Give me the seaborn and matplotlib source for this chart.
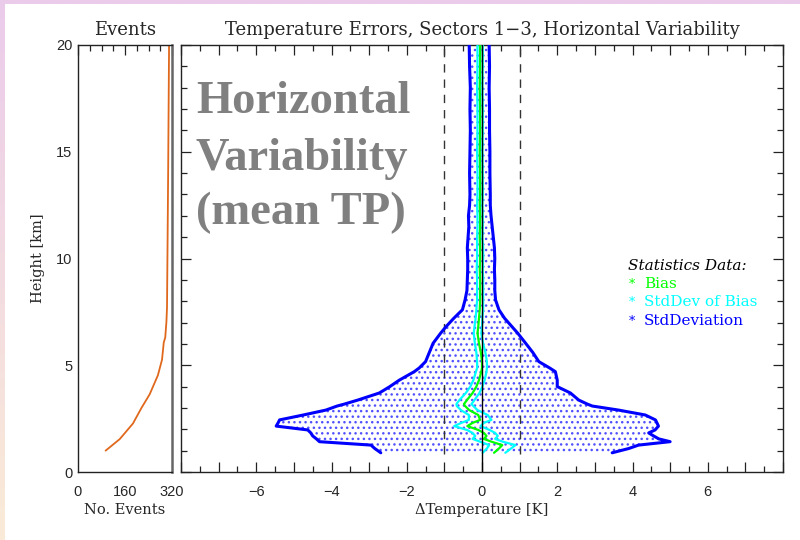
import numpy as np
import pandas as pd
import matplotlib
matplotlib.use("Agg")
import matplotlib.pyplot as plt
import seaborn as sns
from matplotlib.patches import Rectangle
from matplotlib.ticker import MultipleLocator

# ---------------- data ----------------
height_km = [0.9, 1.1, 1.26, 1.42, 1.55, 1.69, 1.83, 1.97, 2.15, 2.3, 2.44, 2.67, 2.9,
             3.09, 3.18, 3.37, 3.7, 4.0, 4.3, 4.7, 4.87, 5.17, 5.6, 6.03, 6.5, 6.8,
             7.2, 7.6, 8.06, 8.5, 9.0, 9.5, 10.0, 10.5, 11.0, 11.5, 12.0, 12.5, 13.0,
             14.0, 15.0, 16.0, 17.0, 18.0, 19.0, 20.0]
std_low = [-2.69, -2.85, -2.95, -4.32, -4.40, -4.50, -4.55, -4.63, -5.47, -5.42, -5.38,
           -4.75, -4.15, -3.85, -3.66, -3.30, -2.73, -2.45, -2.20, -1.80, -1.67, -1.50,
           -1.40, -1.30, -1.10, -0.96, -0.75, -0.52, -0.45, -0.40, -0.39, -0.38, -0.38,
           -0.39, -0.37, -0.35, -0.36, -0.33, -0.32, -0.33, -0.32, -0.31, -0.32, -0.31,
           -0.33, -0.34]
std_high = [3.46, 3.90, 4.16, 5.00, 4.70, 4.56, 4.43, 4.60, 4.69, 4.65, 4.61, 4.34, 3.63,
            2.93, 2.80, 2.57, 2.35, 2.00, 2.00, 1.95, 1.80, 1.51, 1.35, 1.16, 0.95, 0.80,
            0.60, 0.45, 0.36, 0.34, 0.34, 0.33, 0.34, 0.33, 0.30, 0.27, 0.24, 0.22, 0.22,
            0.21, 0.21, 0.20, 0.20, 0.19, 0.20, 0.19]
bias = [0.32, 0.45, 0.54, 0.25, 0.05, 0.12, 0.05, -0.10, -0.39, -0.25, -0.05, -0.10,
        -0.34, -0.45, -0.48, -0.40, -0.25, -0.15, -0.08, -0.02, 0.00, 0.00, -0.03, -0.08,
        -0.12, -0.10, -0.08, -0.06, -0.05, -0.05, -0.05, -0.06, -0.05, -0.05, -0.06,
        -0.05, -0.05, -0.06, -0.05, -0.05, -0.06, -0.05, -0.05, -0.06, -0.05, -0.05]
std_of_bias = [0.30, 0.32, 0.35, 0.30, 0.30, 0.30, 0.30, 0.30, 0.35, 0.30, 0.30, 0.25,
               0.22, 0.22, 0.20, 0.20, 0.18, 0.16, 0.15, 0.14, 0.13, 0.13, 0.12, 0.11,
               0.10, 0.10, 0.09, 0.09, 0.08, 0.08, 0.08, 0.08, 0.08, 0.08, 0.07, 0.07,
               0.07, 0.07, 0.07, 0.07, 0.07, 0.07, 0.07, 0.07, 0.07, 0.07]

events_height = [1.0, 1.54, 2.27, 3.0, 3.64, 4.53, 5.26, 6.07, 6.3, 7.04, 7.7, 10.9, 14.2, 20.0]
events_count = [94, 142, 187, 216, 244, 272, 286, 292, 297, 301, 303, 305, 307, 310]

xticks_main = [-6, -4, -2, 0, 2, 4, 6]
xticks_events = [0, 160, 320]
yticks_height = [0, 5, 10, 15, 20]

annotation_lines = ["Horizontal", "Variability", "(mean TP)"]
legend_labels = ["Bias", "StdDev of Bias", "StdDeviation"]
legend_colors = ["#00ff00", "#00ffff", "#0000ff"]

# ---------------- style ----------------
sns.set_theme(style="white")
plt.rcParams["font.family"] = ["DejaVu Serif", "DejaVu Sans"]
plt.rcParams["hatch.linewidth"] = 1.0

W, H = 800, 540
fig = plt.figure(figsize=(8, 5.4), dpi=100)

# background gradient frame
bg = fig.add_axes([0, 0, 1, 1], zorder=-10)
top = np.array([235, 203, 235]) / 255.0
bot = np.array([250, 235, 215]) / 255.0
t = np.linspace(0, 1, 256)[:, None]
grad = top[None, :] * (1 - t) + bot[None, :] * t
bg.imshow(grad[:, None, :], aspect="auto", extent=[0, 1, 0, 1], origin="upper")
bg.add_patch(Rectangle((5 / W, 0), 1, 1 - 4 / H, facecolor="white", edgecolor="none"))
bg.set_xlim(0, 1)
bg.set_ylim(0, 1)
bg.axis("off")

bottom = 1 - 472 / H
height = 427 / H
axL = fig.add_axes([78 / W, bottom, 94 / W, height])
axM = fig.add_axes([181 / W, bottom, 602 / W, height])

num_font = dict(family=["Liberation Sans", "DejaVu Sans"], size=10.5)

# ---------------- events panel ----------------
ev = pd.DataFrame({"events": events_count, "height": events_height})
sns.lineplot(data=ev, x="events", y="height", sort=False, estimator=None,
             color="#e0681c", linewidth=1.3, ax=axL)
axL.set_xlim(0, 320)
axL.set_ylim(0, 20)
axL.set_xticks(xticks_events)
axL.set_xticklabels([str(v) for v in xticks_events], **num_font)
axL.xaxis.set_minor_locator(MultipleLocator(40))
axL.set_yticks(yticks_height)
axL.set_yticklabels([str(v) for v in yticks_height], **num_font)
axL.yaxis.set_minor_locator(MultipleLocator(1))
axL.tick_params(which="both", direction="in", top=True, right=False, color="#222222",
                width=0.9)
axL.tick_params(axis="x", which="both", pad=9)
axL.tick_params(axis="y", which="both", pad=4)
axL.tick_params(which="major", length=7)
axL.tick_params(which="minor", length=4)
axL.set_xlabel("No. Events", fontsize=10.5, labelpad=3)
axL.set_ylabel("Height [km]", fontsize=10.5, labelpad=8)
axL.set_title("Events", fontsize=13, pad=7)
for s in axL.spines.values():
    s.set_color("#222222")
    s.set_linewidth(1.0)
axL.spines["right"].set_color("#666666")
axL.spines["right"].set_linewidth(1.8)

# ---------------- main panel ----------------
axM.fill_betweenx(height_km, std_low, std_high, facecolor="none", edgecolor="#5050ff",
                  hatch="...", linewidth=0, zorder=1)
axM.plot([-1, -1], [0.85, 20], color="#333333", linestyle=(0, (6, 5)), linewidth=1.0, zorder=2)
axM.plot([1, 1], [0.85, 20], color="#333333", linestyle=(0, (6, 5)), linewidth=1.0, zorder=2)

prof = pd.DataFrame({"h": height_km, "low": std_low, "high": std_high, "bias": bias,
                     "sb_lo": np.array(bias) - np.array(std_of_bias),
                     "sb_hi": np.array(bias) + np.array(std_of_bias)})
for col, c, lw in [("low", "#0000ff", 2.2), ("high", "#0000ff", 2.2),
                   ("sb_lo", "#00ffff", 1.6), ("sb_hi", "#00ffff", 1.6),
                   ("bias", "#00ff00", 1.6)]:
    sns.lineplot(data=prof, x=col, y="h", sort=False, estimator=None, color=c,
                 linewidth=lw, ax=axM, zorder=3)
axM.axvline(0, color="black", linewidth=1.0, zorder=5)

axM.set_xlim(-8, 8)
axM.set_ylim(0, 20)
maj = np.arange(-8, 9, 1)
axM.set_xticks(maj)
axM.set_xticklabels([str(v).replace("-", "\u2212") if v in xticks_main else "" for v in maj],
                    **num_font)
axM.xaxis.set_minor_locator(MultipleLocator(0.5))
axM.set_yticks(yticks_height)
axM.set_yticklabels([])
axM.yaxis.set_minor_locator(MultipleLocator(1))
axM.tick_params(which="both", direction="in", top=True, right=True, left=True,
                bottom=True, color="#222222", width=0.9)
axM.tick_params(axis="x", which="both", pad=9)
axM.tick_params(which="major", length=7)
axM.tick_params(which="minor", length=4)
axM.set_xlabel("\u0394Temperature [K]", fontsize=10.5, labelpad=3)
axM.set_ylabel("")
axM.set_title("Temperature Errors, Sectors 1\u22123, Horizontal Variability",
              fontsize=13, pad=7)
for s in axM.spines.values():
    s.set_color("#222222")
    s.set_linewidth(1.0)

# big grey annotation (three lines, baselines from reference)
for txt, yb in zip(annotation_lines, [113, 170, 224]):
    fig.text(196 / W, 1 - yb / H, txt, ha="left", va="baseline", color="#808080",
             family=["Liberation Serif", "DejaVu Serif"], fontweight="bold",
             fontsize=33.5, zorder=6)

# legend text
fig.text(628 / W, 1 - 270 / H, "Statistics Data:", style="italic", fontsize=11,
         color="black", ha="left", va="baseline")
for i, (lab, col) in enumerate(zip(legend_labels, legend_colors)):
    y = 1 - (288 + 18.5 * i) / H
    fig.text(629 / W, y, "*", fontsize=9, color=col, ha="left", va="baseline")
    fig.text(644 / W, y, lab, fontsize=11, color=col, ha="left", va="baseline")

fig.savefig("out.png", dpi=100)
